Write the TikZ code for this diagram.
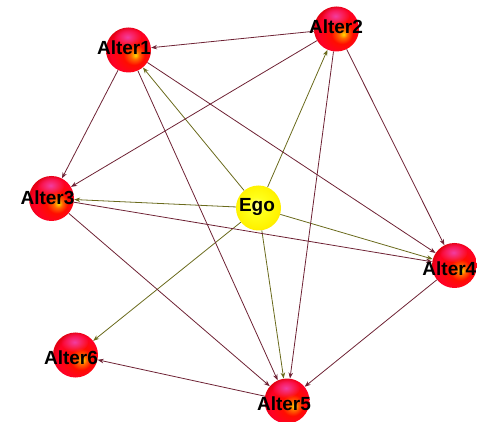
\documentclass[tikz,border=0pt]{standalone}
\usepackage{fontspec}
\setmainfont{Liberation Sans}
\usetikzlibrary{arrows.meta,fadings,backgrounds}
\pgfdeclareradialshading{altshade}{\pgfpoint{8bp}{-6bp}}{color(0bp)=(yellow!70!orange); color(5bp)=(orange!80!red); color(12bp)=(red!90!orange); color(24bp)=(red!85!magenta); color(33bp)=(red!80!black); color(50bp)=(red!80!black)}
\pgfdeclareradialshading{egoshade}{\pgfpoint{-3bp}{3bp}}{color(0bp)=(yellow!40!white); color(10bp)=(yellow!90!white); color(24bp)=(yellow!90!orange); color(30bp)=(yellow!75!orange); color(50bp)=(yellow!75!orange)}
\tikzfading[name=spotfade, inner color=transparent!0, outer color=transparent!100]
\definecolor{maroonedge}{HTML}{6E2234}
\definecolor{oliveedge}{HTML}{6A6A1C}
\tikzset{
  altnode/.style={circle, minimum size=45pt, inner sep=0pt, shading=altshade},
  egonode/.style={circle, minimum size=45pt, inner sep=0pt, shading=egoshade},
  lbl/.style={inner sep=0pt, font=\bfseries\fontsize{19}{20}\selectfont, text=black},
  spot/.style={fill=magenta!75!white, path fading=spotfade, opacity=0.95},
  medge/.style={draw=maroonedge, line width=0.8pt, -{Stealth[length=6pt,width=4.5pt]}},
  oedge/.style={draw=oliveedge, line width=0.8pt, -{Stealth[length=6pt,width=4.5pt]}}
}
\begin{document}
\begin{tikzpicture}[x=1pt,y=-1pt]
\useasboundingbox (0,0) rectangle (477,422);
% balls
\node[altnode] (a1) at (128.5,50) {};
\node[altnode] (a2) at (336.5,29) {};
\node[altnode] (a3) at (51.5,198.5) {};
\node[egonode] (ego) at (258.5,208) {};
\node[altnode] (a4) at (454.5,265.5) {};
\node[altnode] (a6) at (75.5,355) {};
\node[altnode] (a5) at (287,401) {};
% highlights
\foreach \n in {a1,a2,a3,a4,a5,a6}{
  \fill[spot] ([shift={(-1,-13)}]\n.center) ellipse [x radius=14pt, y radius=10pt];
}
% edges
\begin{scope}[on background layer]
\draw[oedge] (ego) -- (a1);
\draw[oedge] (ego) -- (a2);
\draw[oedge] (ego) -- (a3);
\draw[oedge] (ego) -- (a4);
\draw[oedge] (ego) -- (a5);
\draw[oedge] (ego) -- (a6);
\draw[medge] (a2) -- (a1);
\draw[medge] (a1) -- (a3);
\draw[medge] (a2) -- (a3);
\draw[medge] (a1) -- (a4);
\draw[medge] (a1) -- (a5);
\draw[medge] (a2) -- (a4);
\draw[medge] (a2) -- (a5);
\draw[medge] (a3) -- (a4);
\draw[medge] (a3) -- (a5);
\draw[medge] (a4) -- (a5);
\draw[medge] (a5) -- (a6);
\end{scope}
% labels
\node[lbl] (t1) at (124,48) {Alter1};
\node[lbl] (t2) at (336,27) {Alter2};
\node[lbl] (t3) at (47.5,197.5) {Alter3};
\node[lbl] (te) at (257,207) {Ego};
\node[lbl, anchor=east] (t4) at (476.5,269) {Alter4};
\node[lbl] (t6) at (71,358) {Alter6};
\node[lbl] (t5) at (284,404) {Alter5};
\end{tikzpicture}
\end{document}
